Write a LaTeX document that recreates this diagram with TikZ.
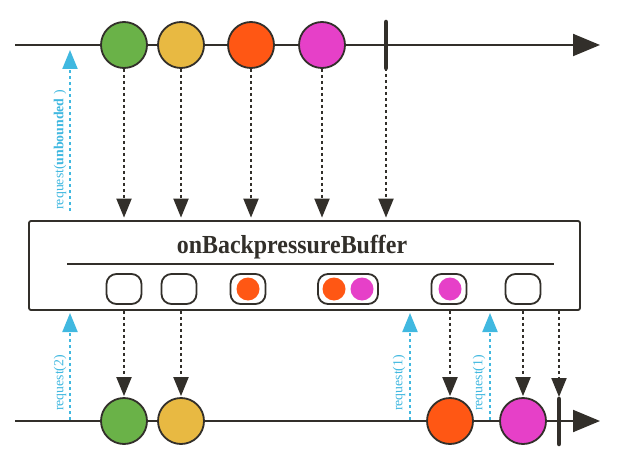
\documentclass[tikz,border=0pt]{standalone}
\usepackage{fontspec}
\setmainfont{Liberation Serif}
\newfontfamily\titlefont[FakeStretch=0.92]{Liberation Serif}
\usetikzlibrary{arrows.meta}
\definecolor{dark}{RGB}{50,47,42}
\definecolor{mgreen}{RGB}{106,178,72}
\definecolor{myellow}{RGB}{232,185,66}
\definecolor{morange}{RGB}{255,87,20}
\definecolor{mmagenta}{RGB}{230,64,200}
\definecolor{reqblue}{RGB}{64,184,224}
\tikzset{
  timeline/.style={draw=dark, line width=2pt, -{Triangle[length=27pt,width=22pt]}},
  marble/.style={circle, draw=dark, line width=1.8pt, minimum size=46pt, inner sep=0pt},
  donebar/.style={draw=dark, line width=4.5pt, line cap=round},
  dotdown/.style={draw=dark, line width=2pt, dash pattern=on 3pt off 3pt, -{Triangle[length=19pt,width=15pt]}},
  reqarrow/.style={draw=reqblue, line width=2pt, dash pattern=on 3pt off 3pt, -{Triangle[length=19pt,width=15pt]}},
  reqlabel/.style={text=reqblue, font=\fontsize{13.8}{16}\selectfont, rotate=90, inner sep=0pt},
  opbox/.style={draw=dark, line width=1.8pt, rounded corners=2pt, minimum width=551pt, minimum height=89pt, inner sep=0pt},
  slot/.style={draw=dark, line width=1.8pt, rounded corners=10pt, minimum width=35pt, minimum height=30pt, inner sep=0pt},
  wideslot/.style={slot, minimum width=60pt},
  bdot/.style={circle, minimum size=23pt, inner sep=0pt},
}
\begin{document}
\begin{tikzpicture}[x=1pt,y=-1pt]
\useasboundingbox (0,0) rectangle (644,454);
\fill[white] (0,0) rectangle (644,454);
% top timeline
\coordinate (tstart) at (15,45);
\coordinate (tend) at (600,45);
\draw[timeline] (tstart) -- (tend);
\node[marble, fill=mgreen] (t1) at (124,45) {};
\node[marble, fill=myellow] (t2) at (181,45) {};
\node[marble, fill=morange] (t3) at (251,45) {};
\node[marble, fill=mmagenta] (t4) at (322,45) {};
\coordinate (tbtop) at (386,22);
\coordinate (tbbot) at (386,68);
\draw[donebar] (tbtop) -- (tbbot);
% operator box
\node[opbox] (box) at (304.5,265.5) {};
\node[font=\titlefont\fontsize{26}{29}\selectfont\bfseries, text=dark, inner sep=0pt] (title) at (292,247) {onBackpressureBuffer};
\coordinate (ul) at (67,264);
\coordinate (ur) at (554,264);
\draw[dark, line width=1.5pt] (ul) -- (ur);
% slots
\node[slot] (s1) at (124,289) {};
\node[slot] (s2) at (179,289) {};
\node[slot] (s3) at (248,289) {};
\node[bdot, fill=morange] (s3a) at (248,289) {};
\node[wideslot] (s4) at (348,289) {};
\node[bdot, fill=morange] (s4a) at (334,289) {};
\node[bdot, fill=mmagenta] (s4b) at (362,289) {};
\node[slot] (s5) at (449,289) {};
\node[bdot, fill=mmagenta] (s5a) at (450,289) {};
\node[slot] (s6) at (523,289) {};
% top dashed arrows into box
\foreach \n in {t1,t2,t3,t4} \draw[dotdown, shorten >=2.5pt] (\n.south) -- (\n |- box.north);
\draw[dotdown, shorten >=2.5pt] (tbbot) -- (tbbot |- box.north);
% request unbounded
\coordinate (ru0) at (70,211);
\coordinate (ru1) at (70,50);
\draw[reqarrow] (ru0) -- (ru1);
\node[reqlabel] (rul) at (60,150) {request(\textbf{unbounded} )};
% bottom timeline
\coordinate (bstart) at (15,421);
\coordinate (bend) at (600,421);
\draw[timeline] (bstart) -- (bend);
\node[marble, fill=mgreen] (b1) at (124,421) {};
\node[marble, fill=myellow] (b2) at (181,421) {};
\node[marble, fill=morange] (b3) at (450,421) {};
\node[marble, fill=mmagenta] (b4) at (523,421) {};
\coordinate (bbtop) at (559,399);
\coordinate (bbbot) at (559,444);
\draw[donebar] (bbtop) -- (bbbot);
% dashed arrows out of box
\foreach \n in {b1,b2,b3,b4} \draw[dotdown, shorten >=1pt] (\n |- box.south) -- (\n.north);
\draw[dotdown, shorten >=2pt] (bbtop |- box.south) -- (bbtop);
% request arrows bottom
\coordinate (r2a) at (70,420);
\coordinate (r2b) at (70,313);
\draw[reqarrow] (r2a) -- (r2b);
\node[reqlabel] (r2l) at (60,383) {request(2)};
\coordinate (r3a) at (410,420);
\coordinate (r3b) at (410,313);
\draw[reqarrow] (r3a) -- (r3b);
\node[reqlabel] (r3l) at (399,383) {request(1)};
\coordinate (r4a) at (490,420);
\coordinate (r4b) at (490,313);
\draw[reqarrow] (r4a) -- (r4b);
\node[reqlabel] (r4l) at (479,383) {request(1)};
\end{tikzpicture}
\end{document}
